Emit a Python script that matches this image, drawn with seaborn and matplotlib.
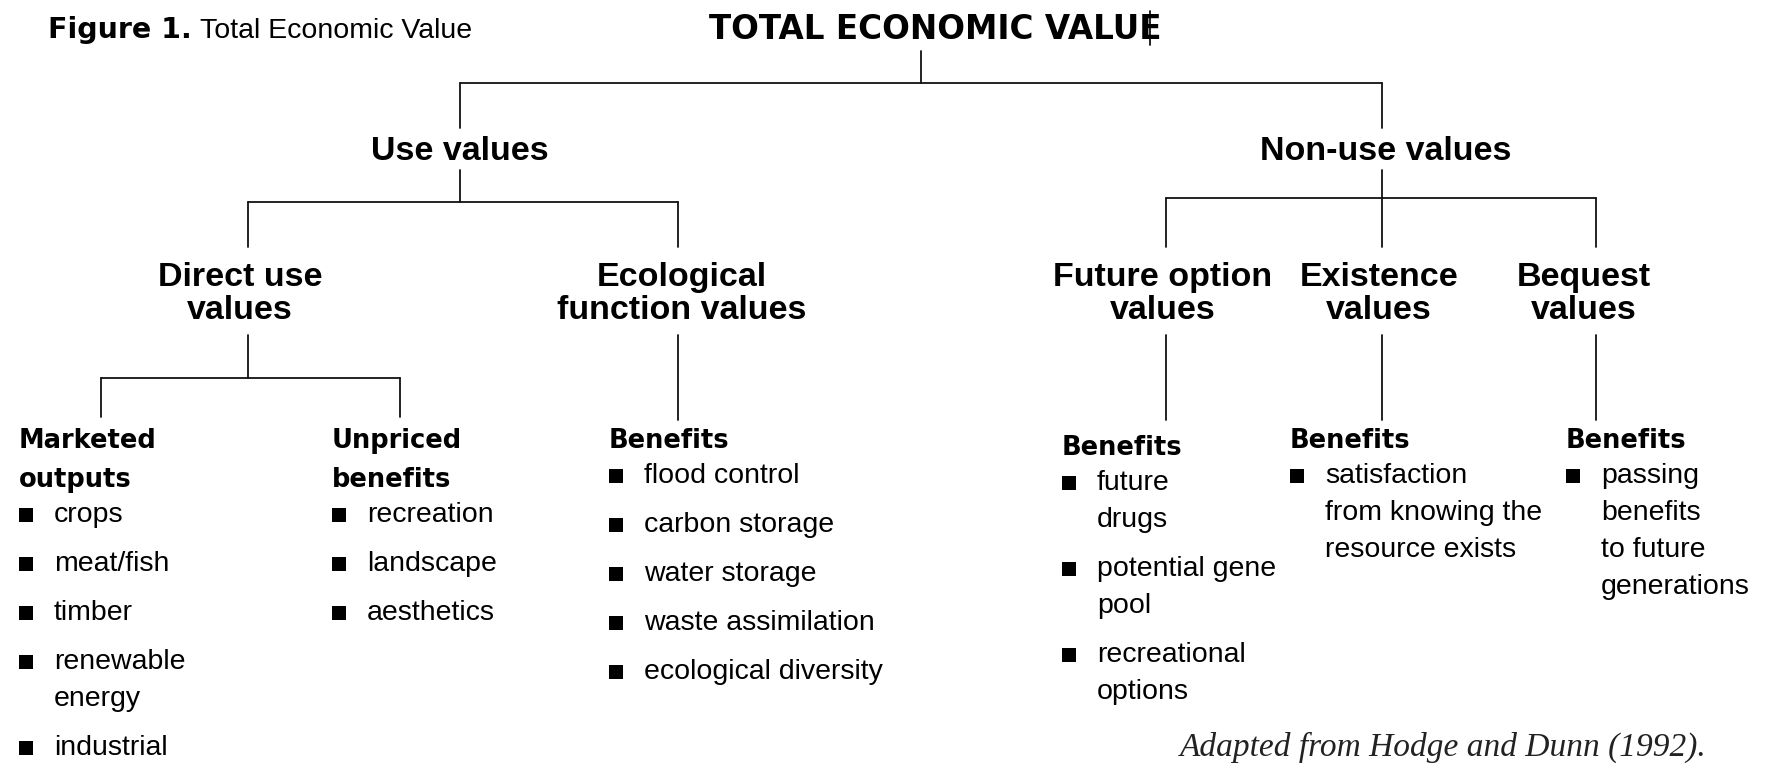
import pandas as pd
import matplotlib.pyplot as plt
import seaborn as sns

sns.set_theme(style="white")
plt.rcParams['font.family'] = ['Liberation Sans', 'DejaVu Sans']
plt.rcParams['text.color'] = 'black'

# ---- text content ----
FIG_LABEL = "Figure 1."
FIG_TITLE = "Total Economic Value"
ROOT = "TOTAL ECONOMIC VALUE"
LEVEL1 = ["Use values", "Non-use values"]
LEVEL2 = [["Direct use", "values"], ["Ecological", "function values"],
          ["Future option", "values"], ["Existence", "values"], ["Bequest", "values"]]
LEVEL2_PARENT = [0, 0, 1, 1, 1]
LEAF_HEADS = [["Marketed", "outputs"], ["Unpriced", "benefits"], ["Benefits"],
              ["Benefits"], ["Benefits"], ["Benefits"]]
LEAF_PARENT = [0, 0, 1, 2, 3, 4]
LEAF_ITEMS = [
    [["crops"], ["meat/fish"], ["timber"], ["renewable", "energy"], ["industrial"]],
    [["recreation"], ["landscape"], ["aesthetics"]],
    [["flood control"], ["carbon storage"], ["water storage"],
     ["waste assimilation"], ["ecological diversity"]],
    [["future", "drugs"], ["potential gene", "pool"], ["recreational", "options"]],
    [["satisfaction", "from knowing the", "resource exists"]],
    [["passing", "benefits", "to future", "generations"]],
]
SOURCE = "Adapted from Hodge and Dunn (1992)."

# ---- layout (pixels on the 1778x781 canvas, y pointing down) ----
W, H = 1778, 781
l1_x = [460, 1382]
l1_text_x = [460, 1386]
l1_base = 160
l2_x = [248, 678, 1166, 1382, 1596]
l2_text_x = [240, 682, 1163, 1379, 1584]
l2_base = [286, 319]
bar1_y = [202, 198]
leaf_conn_x = [101, 400, 678, 1166, 1382, 1596]
leaf_x = [19, 332, 609, 1062, 1290, 1566]
leaf_y = [438, 438, 438, 445, 438, 438]
HEAD_STEP, FIRST_GAP, LINE_STEP, ITEM_STEP = 39, 37, 37, 49

# ---- connector segments ----
segs = []
def seg(x0, y0, x1, y1):
    k = len(segs) // 2
    segs.append((k, x0, y0))
    segs.append((k, x1, y1))

mid = (l1_x[0] + l1_x[1]) / 2
seg(mid, 51, mid, 83)
seg(l1_x[0], 83, l1_x[1], 83)
for x in l1_x:
    seg(x, 83, x, 128)

for i, px in enumerate(l1_x):
    kids = [l2_x[j] for j, p in enumerate(LEVEL2_PARENT) if p == i]
    seg(px, 170, px, bar1_y[i])
    seg(min(kids), bar1_y[i], max(kids), bar1_y[i])
    for x in kids:
        seg(x, bar1_y[i], x, 247)

for j, px in enumerate(l2_x):
    kids = [leaf_conn_x[k] for k, p in enumerate(LEAF_PARENT) if p == j]
    if len(kids) == 1:
        seg(px, 335, px, 420)
    else:
        seg(px, 335, px, 378)
        seg(min(kids), 378, max(kids), 378)
        for x in kids:
            seg(x, 378, x, 417)

seg(1150, 11, 1150, 45)  # stray cursor mark in the original scan

seg_df = pd.DataFrame(segs, columns=["seg", "x", "y"])

# ---- leaf text positions ----
bullets = []
texts = []
for k in range(len(LEAF_HEADS)):
    y = leaf_y[k]
    for line in LEAF_HEADS[k]:
        texts.append((leaf_x[k], y + 10, line, "head"))
        y += HEAD_STEP
    y += FIRST_GAP - HEAD_STEP
    for item in LEAF_ITEMS[k]:
        bullets.append((leaf_x[k] + 7, y + 1))
        for n, line in enumerate(item):
            texts.append((leaf_x[k] + 35, y + 8, line, "body"))
            y += LINE_STEP if n < len(item) - 1 else 0
        y += ITEM_STEP
bullet_df = pd.DataFrame(bullets, columns=["x", "y"])

# ---- draw ----
fig = plt.figure(figsize=(W / 100, H / 100), dpi=100)
ax = fig.add_axes([0, 0, 1, 1])

sns.lineplot(data=seg_df, x="x", y="y", units="seg", estimator=None, sort=False,
             color="#111111", linewidth=1.3, ax=ax, legend=False)
sns.scatterplot(data=bullet_df, x="x", y="y", marker="s", s=95, color="black",
                edgecolor="none", ax=ax, legend=False)

ax.text(48, 38, FIG_LABEL, fontsize=20.5, fontweight="bold", family="DejaVu Sans",
        ha="left", va="baseline")
ax.text(200, 38, FIG_TITLE, fontsize=20.5, ha="left", va="baseline")
ax.text(935, 39, ROOT, fontsize=23.5, fontweight="bold", family="DejaVu Sans",
        ha="center", va="baseline")

for x, lab in zip(l1_text_x, LEVEL1):
    ax.text(x, l1_base, lab, fontsize=24.5, fontweight="bold", ha="center", va="baseline")
for x, lines in zip(l2_text_x, LEVEL2):
    for yb, line in zip(l2_base, lines):
        ax.text(x, yb, line, fontsize=24.5, fontweight="bold", ha="center", va="baseline")

for x, y, s, kind in texts:
    if kind == "head":
        ax.text(x, y, s, fontsize=18.5, fontweight="bold", family="DejaVu Sans",
                ha="left", va="baseline")
    else:
        ax.text(x, y, s, fontsize=20.5, ha="left", va="baseline")

ax.text(1707, 756, SOURCE, fontsize=24, style="italic", family="Liberation Serif",
        ha="right", va="baseline", color="#222222")

ax.set_xlim(0, W)
ax.set_ylim(H, 0)
ax.axis("off")
fig.savefig("out.png", dpi=100, facecolor="white")
